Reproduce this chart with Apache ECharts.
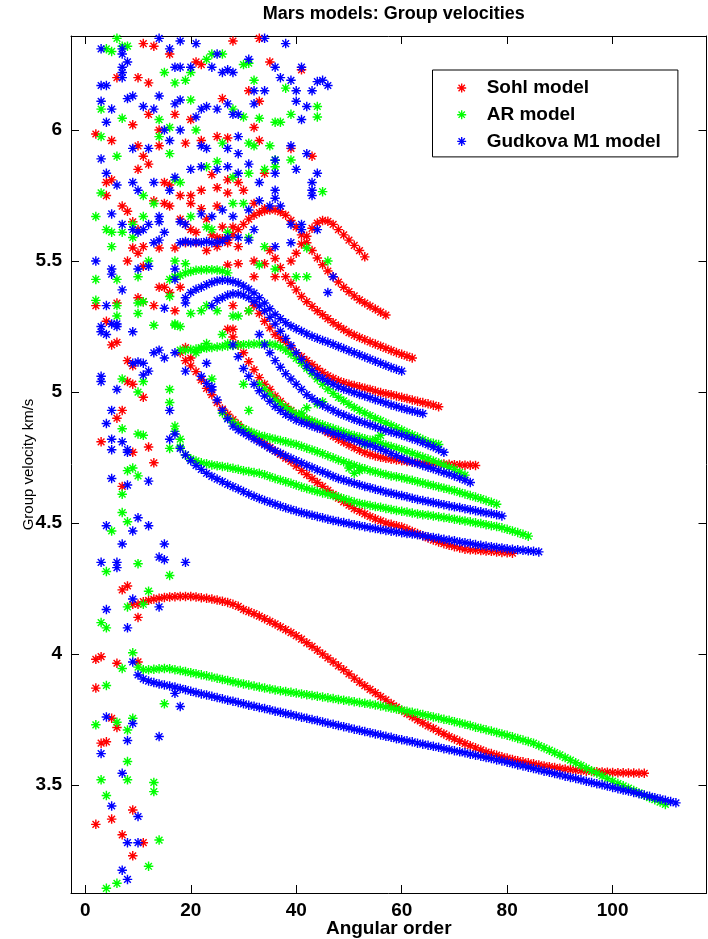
<!DOCTYPE html>
<html><head><meta charset="utf-8">
<script src="https://cdn.jsdelivr.net/npm/echarts@6/dist/echarts.min.js"></script>
<style>html,body{margin:0;padding:0;background:#fff}#c{width:708px;height:939px}</style>
</head><body><div id="c"></div>
<script>
// ---------- DATA (angular order l, group velocity km/s) ----------
const xTicks = [0, 20, 40, 60, 80, 100];
const yTicks = [3.5, 4, 4.5, 5, 5.5, 6];
const seriesNames = ['Sohl model', 'AR model', 'Gudkova M1 model'];

// scattered points (low angular orders)
const sohlScatter = [[11,6.33],[13,6.32],[16,6.29],[28,6.34],[33,6.35],[21,6.26],[22,6.25],[35,6.26],[41,6.23],[6,6.2],[10,6.2],[12,6.18],[9,6.02],[12,6.06],[14,6.0],[17,6.06],[20,6.04],[26,6.12],[31,6.15],[33,6.11],[2,5.985],[5,5.96],[10,5.94],[14,5.94],[19,5.95],[22,5.96],[25,5.975],[27,5.97],[32,6.01],[33,5.96],[39,5.93],[43,5.90],[11,5.90],[12,5.87],[5,5.81],[4,5.80],[4,5.75],[10,5.85],[15,5.80],[16,5.79],[18,5.75],[20,5.75],[22,5.77],[24,5.83],[25,5.78],[27,5.81],[29,5.80],[30,5.77],[34,5.835],[7,5.71],[8,5.69],[9,5.65],[10,5.62],[13,5.73],[15,5.72],[16,5.71],[20,5.72],[22,5.70],[25,5.71],[27,5.76],[32,5.72],[34,5.70],[23,5.66],[26,5.63],[28,5.63],[9,5.55],[10,5.53],[11,5.555],[14,5.55],[17,5.55],[19,5.57],[21,5.57],[23,5.54],[25,5.555],[27,5.57],[29,5.555],[32,5.50],[34,5.49],[8,5.50],[11,5.48],[14,5.40],[15,5.40],[18,5.40],[27,5.485],[29,5.49],[32,5.44],[36,5.44],[10,5.36],[11,5.345],[13,5.33],[2,5.33],[6,5.34],[16,5.38],[28,5.33],[31,5.31],[18,5.66],[19,5.64],[20,5.62],[21,5.61],[24,5.60],[25,5.59],[26,5.585],
[4,5.27],[5,5.18],[6,5.19],[8,5.12],[9,5.10],[8,5.04],[9,5.03],[11,4.98],[17,5.31],[19,5.17],[12,4.79],[3,4.81],[7,4.93],[6,4.90],[9,4.77],[13,4.73],[7,4.64],[29,5.18],[28,5.24],[20,5.13],
[2,3.98],[3,3.99],[6,3.965],[7,4.245],[8,4.26],[10,4.14],[2,3.87],[5,3.755],[6,3.72],[3,3.66],[4,3.665],[9,3.405],[5,3.37],[2,3.35],[7,3.31],[9,3.23],[11,3.28],[10,3.97]];

const arScatter = [[6,6.35],[4,6.31],[7,6.32],[5,6.30],[8,6.32],[23,6.27],[24,6.29],[26,6.29],[30,6.25],[31,6.255],[32,6.19],[19,6.19],[20,6.22],[15,6.22],[17,6.18],[38,6.16],[3,6.08],[7,6.045],[14,6.04],[16,6.01],[20,6.115],[21,6.0],[28,6.08],[30,6.05],[33,6.045],[36,6.03],[37,6.03],[39,6.06],[44,6.09],[44,6.05],[3,5.975],[6,5.90],[14,5.975],[16,5.91],[25,5.88],[26,5.95],[31,5.95],[32,5.94],[35,5.94],[36,5.886],[39,5.886],[3,5.76],[11,5.75],[17,5.81],[18,5.80],[23,5.86],[28,5.82],[31,5.835],[34,5.85],[36,5.86],[45,5.765],[2,5.67],[9,5.64],[11,5.67],[13,5.72],[20,5.67],[23,5.63],[28,5.72],[30,5.72],[4,5.62],[5,5.61],[7,5.61],[5,5.555],[9,5.59],[12,5.50],[17,5.50],[19,5.49],[24,5.62],[27,5.61],[31,5.59],[34,5.555],[42,5.55],[2,5.43],[6,5.43],[10,5.44],[17,5.44],[46,5.50],[33,5.485],[36,5.47],[40,5.44],[42,5.44],[2,5.35],[6,5.33],[10,5.34],[10,5.30],[16,5.365],[17,5.26],[18,5.25],[20,5.30],[22,5.31],[23,5.33],[25,5.31],[28,5.29],[29,5.29],[31,5.31],
[6,5.29],[11,5.345],[13,5.255],[17,5.255],[21,5.15],[22,5.17],[23,5.185],[24,5.05],[16,5.01],[16,4.96],[17,4.87],[18,4.82],[16,4.785],[7,4.86],[10,4.84],[11,4.835],[8,4.70],[9,4.71],[10,4.68],[7,4.61],[7,4.54],[8,4.505],[5,4.47],[4,4.315],[10,4.345],[16,4.30],[12,4.24],[7,5.05],[10,5.0],[11,5.04],[26,5.22],[27,5.185],[30,5.03],[31,4.93],
[3,4.12],[4,4.10],[11,4.19],[8,4.18],[7,3.945],[4,3.88],[2,3.73],[6,3.74],[9,3.755],[8,3.71],[8,3.59],[8,3.52],[3,3.52],[4,3.46],[13,3.51],[13,3.475],[14,3.29],[12,3.19],[4,3.106],[6,3.125],[15,3.81],
[41,4.92],[42,4.94],[44,4.955],[45,4.963],[53,4.80],[55,4.82],[56,4.835],[50,4.71],[51,4.69],[52,4.70]];

const gudkovaScatter = [[3,6.31],[7,6.31],[7,6.29],[14,6.35],[18,6.34],[16,6.31],[21,6.33],[31,6.27],[25,6.29],[34,6.35],[38,6.33],[8,6.26],[7,6.24],[17,6.24],[18,6.24],[20,6.24],[24,6.24],[27,6.23],[28,6.22],[26,6.22],[36,6.24],[37,6.20],[39,6.19],[41,6.24],[44,6.185],[45,6.19],[46,6.17],[3,6.17],[4,6.17],[7,6.22],[7,6.20],[3,6.11],[5,6.08],[8,6.12],[9,6.13],[11,6.09],[13,6.08],[14,6.13],[17,6.10],[18,6.115],[21,6.05],[22,6.08],[23,6.09],[25,6.08],[27,6.10],[28,6.06],[29,6.06],[32,6.15],[32,6.10],[34,6.15],[40,6.11],[40,6.15],[42,6.09],[43,6.15],[41,6.04],[4,6.03],[3,5.89],[9,5.93],[12,5.93],[15,6.0],[18,6.0],[16,5.96],[22,5.94],[23,5.93],[27,5.93],[29,5.975],[29,5.91],[31,5.87],[36,5.885],[39,5.94],[42,5.91],[4,5.835],[6,5.79],[9,5.80],[10,5.77],[13,5.80],[16,5.77],[17,5.82],[20,5.85],[22,5.86],[25,5.85],[27,5.86],[29,5.835],[33,5.80],[36,5.835],[40,5.85],[44,5.835],[43,5.80],[43,5.77],[36,5.77],[36,5.74],[5,5.68],[7,5.64],[11,5.62],[12,5.64],[14,5.67],[14,5.65],[18,5.65],[19,5.64],[22,5.68],[24,5.67],[26,5.695],[28,5.67],[31,5.695],[33,5.73],[35,5.71],[37,5.71],[39,5.64],[41,5.64],[43,5.75],[44,5.62],[2,5.50],[5,5.47],[9,5.62],[10,5.61],[13,5.57],[14,5.58],[15,5.61],[18,5.57],[19,5.575],[20,5.57],[21,5.573],[22,5.57],[23,5.575],[24,5.57],[25,5.572],[26,5.575],[27,5.59],[29,5.59],[31,5.58],[32,5.62],[36,5.555],[39,5.57],[41,5.62],[5,5.45],[7,5.39],[10,5.47],[12,5.48],[17,5.47],[17,5.43],[46,5.38],[47,5.44],[4,5.33],[3,5.25],[6,5.26],[15,5.32],[19,5.34],
[3,5.23],[4,5.22],[5,5.26],[6,5.25],[9,5.23],[3,5.06],[3,5.04],[6,5.01],[5,4.93],[4,4.88],[5,4.82],[5,4.78],[7,4.81],[8,4.78],[8,4.77],[12,4.66],[5,4.67],[8,4.645],[10,4.52],[4,4.49],[7,4.42],[9,4.47],[12,4.49],[15,4.42],[14,4.37],[15,4.36],[19,4.35],[3,4.35],[6,4.35],[6,4.33],[9,5.11],[10,5.115],[11,5.11],[12,5.08],[11,5.065],[13,5.15],[14,5.16],[15,5.13],[17,5.15],[19,5.08],[16,4.82],[16,4.93],[23,5.11],[24,5.02],
[4,4.17],[8,4.10],[14,4.18],[9,4.21],[4,3.76],[9,3.735],[8,3.67],[3,3.62],[7,3.545],[10,3.38],[5,3.42],[8,3.28],[10,3.28],[7,3.175],[8,3.14],[14,3.685],[18,3.80],[17,3.85]];

// dispersion branches: first angular order of each branch, then one value per successive order
const sohlStarts = [9, 18, 27, 32, 35, 27, 39];
const sohlR0 = [4.19,4.19,4.20,4.205,4.21,4.213,4.216,4.218,4.219,4.22,4.22,4.22,4.218,4.215,4.213,4.21,4.206,4.202,4.197,4.19,4.182,4.17,4.162,4.154,4.145,4.135,4.125,4.115,4.104,4.093,4.082,4.07,4.057,4.043,4.029,4.015,4.0,3.985,3.97,3.955,3.94,3.924,3.908,3.893,3.879,3.865,3.852,3.838,3.825,3.811,3.798,3.785,3.773,3.761,3.749,3.737,3.726,3.716,3.705,3.695,3.685,3.676,3.667,3.658,3.65,3.642,3.634,3.626,3.62,3.614,3.608,3.603,3.598,3.593,3.589,3.585,3.581,3.577,3.573,3.57,3.567,3.564,3.561,3.559,3.557,3.555,3.553,3.552,3.551,3.55,3.549,3.548,3.547,3.547,3.546,3.546,3.545,3.545];
const sohlR1 = [5.15,5.12,5.10,5.078,5.046,5.014,4.99,4.96,4.935,4.915,4.895,4.877,4.86,4.845,4.83,4.817,4.803,4.789,4.775,4.762,4.748,4.735,4.718,4.701,4.685,4.67,4.655,4.64,4.625,4.61,4.595,4.581,4.568,4.555,4.545,4.535,4.525,4.516,4.508,4.5,4.495,4.49,4.485,4.477,4.468,4.46,4.452,4.443,4.435,4.428,4.421,4.415,4.41,4.405,4.40,4.398,4.397,4.395,4.393,4.392,4.39,4.388,4.387,4.385];
const sohlR2 = [5.24,5.21,5.18,5.15,5.116,5.085,5.055,5.03,5.01,4.985,4.965,4.945,4.93,4.915,4.905,4.895,4.883,4.87,4.857,4.845,4.832,4.82,4.809,4.798,4.788,4.778,4.769,4.762,4.756,4.751,4.747,4.744,4.741,4.738,4.735,4.733,4.731,4.729,4.728,4.727,4.726,4.725,4.724,4.723,4.722,4.721,4.721,4.72];
const sohlR3 = [5.33,5.30,5.27,5.245,5.22,5.205,5.19,5.17,5.15,5.135,5.12,5.105,5.09,5.075,5.062,5.052,5.043,5.036,5.03,5.025,5.02,5.015,5.01,5.004,4.998,4.994,4.99,4.985,4.98,4.975,4.97,4.965,4.96,4.955,4.95,4.944];
const sohlR4 = [5.54,5.51,5.475,5.44,5.415,5.39,5.365,5.345,5.327,5.31,5.295,5.28,5.265,5.252,5.239,5.227,5.217,5.208,5.2,5.191,5.183,5.175,5.167,5.159,5.151,5.144,5.137,5.13];
const sohlR5 = [5.58,5.60,5.62,5.64,5.66,5.675,5.685,5.692,5.695,5.695,5.688,5.675,5.655,5.63,5.60,5.57,5.54,5.512,5.486,5.462,5.44,5.42,5.40,5.383,5.367,5.352,5.34,5.328,5.317,5.305,5.294];
const sohlR6 = [5.50,5.53,5.565,5.595,5.625,5.645,5.655,5.652,5.64,5.62,5.60,5.58,5.56,5.54,5.516];

const arStarts = [9, 17, 26, 33, 18, 16];
const arG0 = [4.005,3.95,3.94,3.94,3.942,3.944,3.945,3.944,3.94,3.937,3.933,3.929,3.925,3.921,3.917,3.912,3.908,3.903,3.899,3.894,3.89,3.886,3.882,3.878,3.874,3.87,3.867,3.863,3.86,3.857,3.854,3.851,3.848,3.845,3.842,3.839,3.836,3.833,3.83,3.827,3.824,3.821,3.818,3.815,3.812,3.809,3.806,3.802,3.798,3.794,3.79,3.786,3.782,3.778,3.774,3.769,3.765,3.76,3.756,3.751,3.747,3.742,3.737,3.732,3.727,3.721,3.716,3.711,3.706,3.701,3.695,3.69,3.684,3.678,3.672,3.666,3.66,3.651,3.642,3.633,3.624,3.615,3.605,3.595,3.585,3.575,3.565,3.555,3.545,3.535,3.525,3.515,3.506,3.497,3.488,3.479,3.47,3.461,3.452,3.444,3.435,3.426];
const arG1 = [4.85,4.79,4.76,4.745,4.737,4.73,4.726,4.722,4.719,4.716,4.713,4.709,4.705,4.70,4.697,4.693,4.69,4.684,4.677,4.67,4.664,4.658,4.652,4.645,4.638,4.632,4.626,4.62,4.615,4.61,4.605,4.60,4.593,4.587,4.58,4.575,4.571,4.567,4.563,4.56,4.556,4.552,4.548,4.545,4.542,4.538,4.535,4.532,4.53,4.527,4.524,4.521,4.518,4.515,4.511,4.508,4.505,4.501,4.498,4.494,4.49,4.487,4.482,4.476,4.47,4.464,4.457,4.45];
const arG2 = [4.92,4.90,4.885,4.872,4.86,4.851,4.843,4.835,4.83,4.825,4.82,4.815,4.81,4.805,4.80,4.793,4.786,4.779,4.772,4.765,4.757,4.749,4.741,4.734,4.727,4.72,4.713,4.707,4.70,4.695,4.69,4.685,4.68,4.677,4.673,4.668,4.663,4.658,4.653,4.648,4.643,4.638,4.633,4.628,4.623,4.617,4.611,4.605,4.599,4.593,4.586,4.579,4.572];
const arG3 = [5.03,5.01,4.99,4.97,4.955,4.94,4.928,4.915,4.906,4.898,4.89,4.882,4.875,4.868,4.861,4.854,4.847,4.84,4.834,4.828,4.822,4.816,4.81,4.804,4.798,4.792,4.786,4.78,4.773,4.766,4.759,4.752,4.745,4.737,4.729,4.721,4.713,4.705,4.694,4.683];
const arG4 = [5.16,5.16,5.162,5.164,5.166,5.168,5.17,5.172,5.174,5.176,5.178,5.18,5.181,5.182,5.183,5.184,5.184,5.183,5.18,5.172,5.16,5.145,5.128,5.11,5.09,5.07,5.05,5.03,5.012,4.995,4.98,4.966,4.953,4.941,4.93,4.92,4.91,4.90,4.891,4.882,4.873,4.864,4.855,4.846,4.837,4.828,4.819,4.81,4.805,4.80];
const arG5 = [5.43,5.44,5.445,5.455,5.46,5.465,5.466,5.467,5.467,5.466,5.462,5.455];

const gudkovaStarts = [9, 17, 22, 28, 33, 24, 19];
const gudB0 = [3.97,3.92,3.905,3.897,3.891,3.886,3.882,3.878,3.874,3.869,3.864,3.858,3.853,3.848,3.844,3.839,3.834,3.829,3.824,3.82,3.815,3.81,3.805,3.801,3.796,3.792,3.787,3.782,3.778,3.773,3.769,3.764,3.759,3.755,3.75,3.746,3.741,3.736,3.732,3.727,3.723,3.718,3.713,3.709,3.704,3.7,3.695,3.691,3.686,3.682,3.677,3.673,3.669,3.665,3.66,3.656,3.652,3.648,3.644,3.639,3.635,3.631,3.627,3.623,3.618,3.614,3.61,3.605,3.601,3.596,3.592,3.587,3.582,3.577,3.573,3.568,3.563,3.558,3.553,3.549,3.544,3.539,3.534,3.529,3.525,3.52,3.515,3.51,3.505,3.501,3.496,3.491,3.486,3.481,3.477,3.472,3.467,3.462,3.457,3.452,3.447,3.442,3.437,3.432];
const gudB1 = [4.84,4.785,4.76,4.738,4.72,4.705,4.69,4.678,4.668,4.658,4.648,4.639,4.63,4.62,4.611,4.602,4.594,4.586,4.579,4.572,4.565,4.558,4.552,4.546,4.54,4.535,4.53,4.525,4.52,4.515,4.51,4.506,4.502,4.498,4.494,4.49,4.486,4.482,4.479,4.475,4.472,4.469,4.466,4.463,4.46,4.458,4.455,4.452,4.448,4.445,4.442,4.438,4.435,4.432,4.428,4.425,4.422,4.418,4.415,4.412,4.41,4.407,4.405,4.402,4.40,4.398,4.396,4.394,4.392,4.39];
const gudB2 = [5.06,5.033,5.008,4.97,4.93,4.898,4.87,4.856,4.845,4.833,4.821,4.81,4.798,4.786,4.775,4.766,4.756,4.747,4.738,4.729,4.72,4.712,4.703,4.695,4.687,4.678,4.67,4.664,4.658,4.652,4.646,4.64,4.635,4.629,4.624,4.618,4.614,4.609,4.605,4.6,4.595,4.59,4.586,4.582,4.578,4.574,4.57,4.566,4.562,4.559,4.555,4.551,4.547,4.543,4.539,4.536,4.532,4.527];
const gudB3 = [5.18,5.135,5.09,5.06,5.03,5.005,4.985,4.965,4.945,4.93,4.915,4.904,4.893,4.885,4.878,4.87,4.863,4.857,4.85,4.843,4.837,4.83,4.823,4.817,4.81,4.803,4.797,4.79,4.782,4.774,4.765,4.757,4.748,4.74,4.733,4.727,4.72,4.713,4.707,4.70,4.693,4.687,4.68,4.672,4.664,4.655];
const gudB4 = [5.22,5.18,5.15,5.12,5.095,5.07,5.05,5.03,5.01,4.99,4.976,4.963,4.95,4.94,4.93,4.92,4.912,4.904,4.896,4.889,4.882,4.875,4.868,4.861,4.854,4.848,4.842,4.836,4.829,4.822,4.815,4.807,4.799,4.791,4.781,4.77];
const gudB5 = [5.33,5.35,5.36,5.37,5.375,5.375,5.37,5.36,5.345,5.328,5.31,5.285,5.26,5.232,5.205,5.177,5.15,5.125,5.10,5.082,5.065,5.052,5.04,5.03,5.02,5.012,5.005,4.998,4.991,4.985,4.978,4.971,4.965,4.958,4.951,4.945,4.939,4.933,4.928,4.923,4.918];
const gudB6 = [5.36,5.38,5.392,5.40,5.41,5.418,5.424,5.427,5.426,5.422,5.416,5.405,5.393,5.378,5.36,5.34,5.318,5.297,5.28,5.265,5.252,5.242,5.232,5.222,5.213,5.205,5.197,5.19,5.182,5.174,5.166,5.158,5.15,5.142,5.134,5.126,5.118,5.11,5.102,5.094,5.087,5.08];

// ---------- BUILD ----------
function branchPoints(starts, branches) {
  const out = [];
  branches.forEach((vals, k) => vals.forEach((v, i) => out.push([starts[k] + i, v])));
  return out;
}
const sohlData = sohlScatter.concat(branchPoints(sohlStarts, [sohlR0, sohlR1, sohlR2, sohlR3, sohlR4, sohlR5, sohlR6]));
const arData = arScatter.concat(branchPoints(arStarts, [arG0, arG1, arG2, arG3, arG4, arG5]));
const gudData = gudkovaScatter.concat(branchPoints(gudkovaStarts, [gudB0, gudB1, gudB2, gudB3, gudB4, gudB5, gudB6]));

const AST = 'path://M-0.15,-1L0.15,-1L0.15,1L-0.15,1ZM-1,-0.15L1,-0.15L1,0.15L-1,0.15ZM-0.6,-0.81L0.81,0.6L0.6,0.81L-0.81,-0.6ZM-0.81,0.6L0.6,-0.81L0.81,-0.6L-0.6,0.81Z';
const FONT = '"Liberation Sans", Arial, Helvetica, sans-serif';
const XMIN = -2.71, XMAX = 117.8, YMIN = 3.088, YMAX = 6.359;

function scatter(name, data, color) {
  return { type: 'scatter', name, data, symbol: AST, symbolSize: 9.5, symbolKeepAspect: true,
    itemStyle: { color, opacity: 1 }, silent: true, animation: false };
}
const axisLineStyle = { show: true, onZero: false, lineStyle: { color: '#000', width: 1 } };

const chart = echarts.init(document.getElementById('c'), null, { renderer: 'canvas' });
chart.setOption({
  animation: false,
  backgroundColor: '#fff',
  title: { text: 'Mars models: Group velocities', left: 388.75, top: 0, textAlign: 'center',
    textStyle: { fontFamily: FONT, fontWeight: 'bold', fontSize: 18, color: '#000' } },
  grid: { left: 71, right: 1.5, top: 36, bottom: 46, containLabel: false, outerBoundsMode: 'none' },
  legend: {
    orient: 'vertical', left: 432.5, top: 70, selectedMode: false,
    data: seriesNames,
    itemWidth: 9, itemHeight: 9, itemGap: 7.7,
    padding: [8.5, 17, 6, 24.7],
    borderColor: '#000', borderWidth: 1, backgroundColor: '#fff',
    textStyle: { fontFamily: FONT, fontWeight: 'bold', fontSize: 19, color: '#000', lineHeight: 19, padding: [0, 0, 0, 15.5] }
  },
  xAxis: [
    { type: 'value', min: XMIN, max: XMAX, position: 'bottom',
      name: 'Angular order', nameLocation: 'middle', nameGap: 26, nameMoveOverlap: false,
      nameTextStyle: { fontFamily: FONT, fontWeight: 'bold', fontSize: 19, color: '#000', lineHeight: 19 },
      axisLine: axisLineStyle,
      axisTick: { show: true, inside: true, length: 8, customValues: xTicks, lineStyle: { color: '#000' } },
      axisLabel: { show: true, customValues: xTicks, margin: 8, fontFamily: FONT, fontWeight: 'bold', fontSize: 19, color: '#000' },
      splitLine: { show: false } },
    { type: 'value', min: XMIN, max: XMAX, position: 'top',
      axisLine: axisLineStyle,
      axisTick: { show: true, inside: true, length: 8, customValues: xTicks, lineStyle: { color: '#000' } },
      axisLabel: { show: false }, splitLine: { show: false } }
  ],
  yAxis: [
    { type: 'value', min: YMIN, max: YMAX, position: 'left',
      name: 'Group velocity km/s', nameLocation: 'middle', nameGap: 35, nameRotate: 90, nameMoveOverlap: false,
      nameTextStyle: { fontFamily: FONT, fontWeight: 'normal', fontSize: 15, color: '#000', lineHeight: 15 },
      axisLine: axisLineStyle,
      axisTick: { show: true, inside: true, length: 8, customValues: yTicks, lineStyle: { color: '#000' } },
      axisLabel: { show: true, customValues: yTicks, margin: 9, fontFamily: FONT, fontWeight: 'bold', fontSize: 19, color: '#000',
        formatter: v => String(+v.toFixed(2)) },
      splitLine: { show: false } },
    { type: 'value', min: YMIN, max: YMAX, position: 'right',
      axisLine: axisLineStyle,
      axisTick: { show: true, inside: true, length: 8, customValues: yTicks, lineStyle: { color: '#000' } },
      axisLabel: { show: false }, splitLine: { show: false } }
  ],
  series: [
    scatter(seriesNames[0], sohlData, '#ff0000'),
    scatter(seriesNames[1], arData, '#00ff00'),
    scatter(seriesNames[2], gudData, '#0000ff')
  ]
});
</script></body></html>
